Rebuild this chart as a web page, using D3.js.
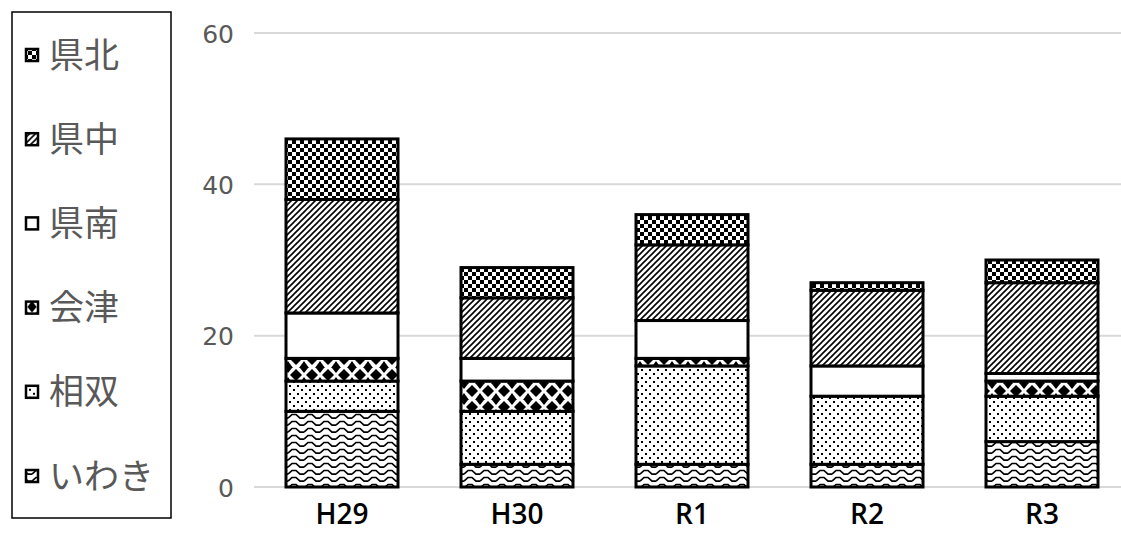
<!DOCTYPE html>
<html><head><meta charset="utf-8">
<script src="https://cdn.jsdelivr.net/npm/d3@7"></script>
<style>body{margin:0;background:#fff}svg{display:block}</style>
</head><body>
<script>
const categories = ["H29","H30","R1","R2","R3"];
const seriesNames = ["いわき","相双","会津","県南","県中","県北"];
const iwaki  = [10, 3, 3, 3, 6];
const soso   = [4, 7, 13, 9, 6];
const aizu   = [3, 4, 1, 0, 2];
const kennan = [6, 3, 5, 4, 1];
const kenchu = [15, 8, 10, 10, 12];
const kenpoku= [8, 4, 4, 1, 3];
const yTicks = [0, 20, 40, 60];
const legendOrder = ["県北","県中","県南","会津","相双","いわき"];

const seriesValues = {"いわき":iwaki,"相双":soso,"会津":aizu,"県南":kennan,"県中":kenchu,"県北":kenpoku};
const rows = categories.map((c,i)=>{const r={cat:c};seriesNames.forEach(s=>r[s]=seriesValues[s][i]);return r;});

const W=1121,H=534;
const svg=d3.select("body").append("svg").attr("width",W).attr("height",H);
const defs=svg.append("defs");

function pat(id,w,h){return defs.append("pattern").attr("id",id).attr("patternUnits","userSpaceOnUse").attr("width",w).attr("height",h);}
let p;
// 県北 checker
p=pat("p-kenpoku",8,8);
p.append("rect").attr("width",8).attr("height",8).attr("fill","#fff");
p.append("rect").attr("width",4).attr("height",4).attr("fill","#000");
p.append("rect").attr("x",4).attr("y",4).attr("width",4).attr("height",4).attr("fill","#000");
// 県中 diagonal
p=pat("p-kenchu",6,6);
p.append("rect").attr("width",6).attr("height",6).attr("fill","#fff");
p.append("path").attr("d","M-1,7 L7,-1 M-4,4 L4,-4 M2,10 L10,2").attr("stroke","#000").attr("stroke-width",1.6);
// 県南 white
p=pat("p-kennan",4,4);
p.append("rect").attr("width",4).attr("height",4).attr("fill","#fff");
// 会津 spheres
p=pat("p-aizu",16,16);
p.append("rect").attr("width",16).attr("height",16).attr("fill","#fff");
p.append("path").attr("d","M8,1 L14,7 L8,13 L2,7 Z").attr("fill","#000");
p.append("path").attr("d","M0,9 L5,16 L0,16 Z M16,9 L11,16 L16,16 Z M0,5 L4,0 L0,0 Z M16,5 L12,0 L16,0 Z").attr("fill","#000");
// 相双 dots
p=pat("p-soso",8,8);
p.append("rect").attr("width",8).attr("height",8).attr("fill","#fff");
p.append("rect").attr("x",1).attr("y",1).attr("width",2).attr("height",2).attr("fill","#000");
p.append("rect").attr("x",5).attr("y",5).attr("width",2).attr("height",2).attr("fill","#000");
// いわき wave
p=pat("p-iwaki",16,7);
p.append("rect").attr("width",16).attr("height",7).attr("fill","#fff");
p.append("path").attr("d","M0,5.2 L4,1.5 L8,1.5 L12,5.2 L16,5.2").attr("stroke","#000").attr("stroke-width",1.7).attr("fill","none");
const patId={"いわき":"p-iwaki","相双":"p-soso","会津":"p-aizu","県南":"p-kennan","県中":"p-kenchu","県北":"p-kenpoku"};

const x=d3.scaleBand().domain(categories).range([254.5,1129.5]).paddingInner(0.36).paddingOuter(0.18);
const y=d3.scaleLinear().domain([0,60]).range([487,33]);

// grid
svg.append("g").selectAll("line").data(yTicks).join("line")
 .attr("x1",254).attr("x2",1121).attr("y1",d=>y(d)).attr("y2",d=>y(d))
 .attr("stroke","#d9d9d9").attr("stroke-width",2);

// y labels
const yAxis=d3.axisLeft(y).tickValues(yTicks).tickSize(0).tickPadding(0);
const ya=svg.append("g").attr("transform","translate(234,0)").call(yAxis);
ya.select(".domain").remove();
ya.selectAll("text").attr("font-family","'DejaVu Sans',sans-serif").attr("font-size",25).attr("fill","#595959").attr("dy","0.36em");

// x labels
const xAxis=d3.axisBottom(x).tickSize(0).tickPadding(0);
const xa=svg.append("g").attr("transform","translate(0,504)").call(xAxis);
xa.select(".domain").remove();
xa.selectAll("text").attr("font-family","'Open Sans',sans-serif").attr("font-weight","600").attr("font-size",28).attr("fill","#000").attr("dy","0.71em");

// bars
const stack=d3.stack().keys(seriesNames)(rows);
const layers=svg.append("g").selectAll("g").data(stack).join("g").attr("fill",d=>`url(#${patId[d.key]})`);
layers.selectAll("rect").data(d=>d.filter(e=>e[1]-e[0]>0)).join("rect")
 .attr("x",d=>x(d.data.cat)).attr("width",x.bandwidth())
 .attr("y",d=>y(d[1])).attr("height",d=>y(d[0])-y(d[1]))
 .attr("stroke","#000").attr("stroke-width",3);

// legend
const lg=svg.append("g");
lg.append("rect").attr("x",12).attr("y",12).attr("width",159).attr("height",506).attr("fill","#fff").attr("stroke","#000").attr("stroke-width",1.5);
const ly=d3.scalePoint().domain(legendOrder).range([55,476]);
const li=lg.selectAll("g.li").data(legendOrder).join("g").attr("class","li").attr("transform",d=>`translate(0,${ly(d)})`);
li.append("rect").attr("x",26).attr("y",-6).attr("width",12).attr("height",12).attr("fill",d=>`url(#${patId[d]})`).attr("stroke","#000").attr("stroke-width",2.5);
li.append("text").attr("x",49).attr("y",0).attr("dy","0.36em").text(d=>d)
 .attr("font-family","'Noto Sans CJK JP',sans-serif").attr("font-size",35).attr("fill","#595959");
</script>
</body></html>
